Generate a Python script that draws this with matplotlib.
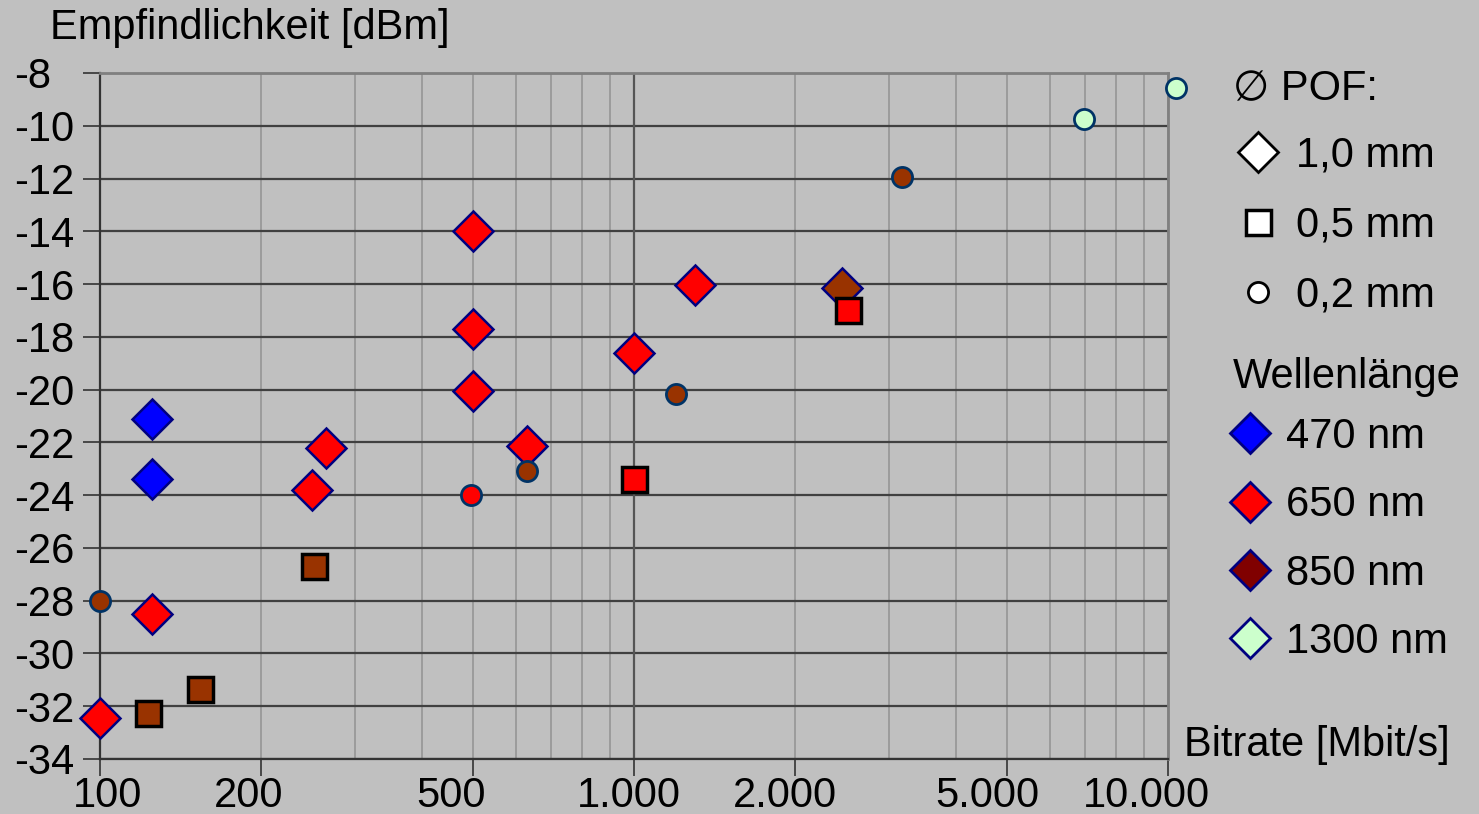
import matplotlib.pyplot as plt
import matplotlib.transforms as mtransforms
from matplotlib.lines import Line2D
import numpy as np

plt.rcParams['font.family'] = ['Liberation Sans', 'DejaVu Sans']
plt.rcParams['axes.unicode_minus'] = False

# 1,0 mm POF (diamonds)
d470_x = [125, 125]
d470_y = [-21.1, -23.4]
d650_x = [500, 500, 500, 1300, 1000, 630, 265, 250, 125, 100]
d650_y = [-14.0, -17.7, -20.05, -16.05, -18.6, -22.15, -22.2, -23.8, -28.5, -32.45]
d850_x = [2450]
d850_y = [-16.15]

# 0,5 mm POF (squares)
s650_x = [2520, 1000]
s650_y = [-17.0, -23.4]
s850_x = [252, 154, 123]
s850_y = [-26.7, -31.35, -32.25]

# 0,2 mm POF (circles)
c650_x = [495]
c650_y = [-24.0]
c850_x = [630, 1200, 3180, 100]
c850_y = [-23.1, -20.15, -11.95, -28.0]
c1300_x = [6950, 10350]
c1300_y = [-9.75, -8.55]

xticks = [100, 200, 500, 1000, 2000, 5000, 10000]
xticklabels = ['100', '200', '500', '1.000', '2.000', '5.000', '10.000']
xlabel_shift = [8, -12, -22, -5, -10, -20, -22]

bg = '#C0C0C0'
blue = '#0000FF'
red = '#FF0000'
brown = '#993300'
green = '#CCFFCC'
navy = '#000080'
fs = 30

fig = plt.figure(figsize=(14.79, 8.14), dpi=100, facecolor=bg)
ax = fig.add_axes([100 / 1479, 55 / 814, 1068 / 1479, 686 / 814])
ax.set_facecolor(bg)

ax.set_xscale('log')
ax.set_xlim(100, 10000)
ax.set_ylim(-34, -8)
ax.set_yticks(np.arange(-34, -7, 2))
ax.set_xticks(xticks)
ax.set_xticklabels(xticklabels)
ax.set_xticks([m * 10 ** e for e in (2, 3) for m in range(2, 10)], minor=True)
ax.tick_params(axis='x', which='minor', length=0)
ax.tick_params(axis='both', which='major', labelsize=fs, length=12, width=1.2,
               direction='out', color='#333333')
ax.tick_params(axis='y', pad=49.5)
ax.tick_params(axis='x', pad=0)
for lbl in ax.get_yticklabels():
    lbl.set_horizontalalignment('left')

# excel-like label placement under the log ticks
for lbl, dx in zip(ax.get_xticklabels(), xlabel_shift):
    lbl.set_transform(lbl.get_transform() +
                      mtransforms.ScaledTranslation(dx / 100, 0, fig.dpi_scale_trans))

ax.grid(True, axis='y', color='#404040', lw=1.6)
ax.grid(True, axis='x', which='both', color='#959595', lw=1.2)
ax.axvline(1000, color='#555555', lw=1.6, zorder=1)
ax.set_axisbelow(True)

for side in ('top', 'right'):
    ax.spines[side].set_color('#808080')
    ax.spines[side].set_linewidth(2)
for side in ('left', 'bottom'):
    ax.spines[side].set_color('#333333')
    ax.spines[side].set_linewidth(1.6)

dkw = dict(marker='D', ms=20, mew=1.8, mec=navy, ls='none', clip_on=False, zorder=3)
skw = dict(marker='s', ms=18, mew=2.5, mec='black', ls='none', clip_on=False, zorder=4)
ckw = dict(marker='o', ms=14.5, mew=2, mec='#003366', ls='none', clip_on=False, zorder=5)

ax.plot(d470_x, d470_y, mfc=blue, **dkw)
ax.plot(d650_x, d650_y, mfc=red, **dkw)
ax.plot(d850_x, d850_y, mfc=brown, **dkw)
ax.plot(s650_x, s650_y, mfc=red, **skw)
ax.plot(s850_x, s850_y, mfc=brown, **skw)
ax.plot(c650_x, c650_y, mfc=red, **ckw)
ax.plot(c850_x, c850_y, mfc=brown, **ckw)
ax.plot(c1300_x, c1300_y, mfc=green, **ckw)

fig.text(50 / 1479, 1 - 28 / 814, 'Empfindlichkeit [dBm]', fontsize=fs, va='center', ha='left')
fig.text(1450 / 1479, 1 - 745 / 814, 'Bitrate [Mbit/s]', fontsize=fs, va='center', ha='right')

# legend titles
fig.text(1233 / 1479, 1 - 89 / 814, '\u2205 POF:', fontsize=fs, va='center', ha='left')
fig.text(1233 / 1479, 1 - 377 / 814, 'Wellenl\u00e4nge', fontsize=fs, va='center', ha='left')

pof_handles = [
    Line2D([], [], marker='D', ms=20, mfc='white', mec='black', mew=2, ls='none'),
    Line2D([], [], marker='s', ms=18, mfc='white', mec='black', mew=2.5, ls='none'),
    Line2D([], [], marker='o', ms=14.5, mfc='white', mec='black', mew=2, ls='none'),
]
leg1 = fig.legend(pof_handles, ['1,0 mm', '0,5 mm', '0,2 mm'],
                  loc='upper left', bbox_to_anchor=(1233 / 1479, 1 - 136 / 814),
                  frameon=False, fontsize=fs,
                  handlelength=1.2, handletextpad=0.3, labelspacing=0.72,
                  borderpad=0, borderaxespad=0)

wl_handles = [
    Line2D([], [], marker='D', ms=20, mfc=c, mec=navy, mew=2, ls='none')
    for c in (blue, red, '#800000', green)
]
leg2 = fig.legend(wl_handles, ['470 nm', '650 nm', '850 nm', '1300 nm'],
                  loc='upper left', bbox_to_anchor=(1233 / 1479, 1 - 417 / 814),
                  frameon=False, fontsize=fs,
                  handlelength=0.82, handletextpad=0.45, labelspacing=0.68,
                  borderpad=0, borderaxespad=0)

fig.savefig('out.png', dpi=100, facecolor=bg)
